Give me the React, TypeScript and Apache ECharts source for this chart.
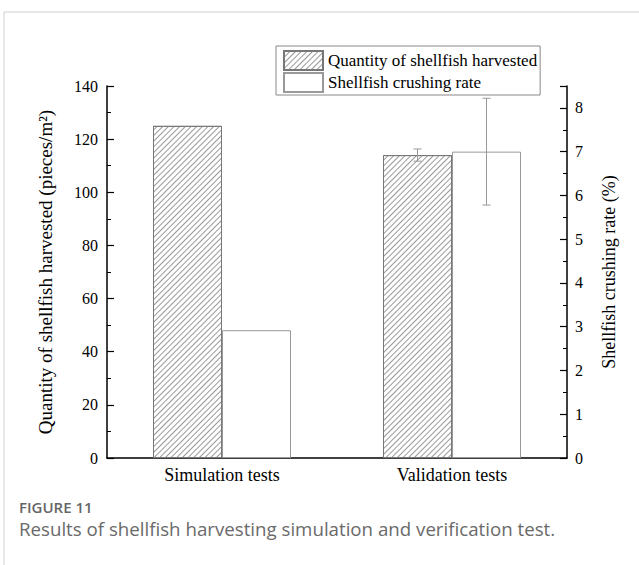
import React, { useEffect, useRef } from "react";
import * as echarts from "echarts";

const categories = ["Simulation tests", "Validation tests"];
const harvestedValues = [125, 114];
const harvestedErrors = [0, 2.3];
const crushingValues = [2.92, 7.0];
const crushingErrors = [0, 1.22];
const leftTicks = { min: 0, max: 140, interval: 20 };
const rightTicks = { min: 0, max: 8.5, interval: 1 };

const serif = "Liberation Serif";
const sans = "Open Sans";
const BAR_W = 69;

function errorRenderer(offset: number) {
  return (params: any, api: any) => {
    const idx = api.value(0);
    const v = api.value(1);
    const e = api.value(2);
    if (!e) return null;
    const top = api.coord([idx, v + e]);
    const bot = api.coord([idx, v - e]);
    const x = top[0] + offset;
    const style = { stroke: "#999", lineWidth: 1 };
    return {
      type: "group",
      children: [
        { type: "line", shape: { x1: x, y1: top[1], x2: x, y2: bot[1] }, style },
        { type: "line", shape: { x1: x - 4, y1: top[1], x2: x + 4, y2: top[1] }, style },
        { type: "line", shape: { x1: x - 4, y1: bot[1], x2: x + 4, y2: bot[1] }, style },
      ],
    };
  };
}

export default function App() {
  const ref = useRef<HTMLDivElement>(null);
  useEffect(() => {
    if (!ref.current) return;
    const chart = echarts.init(ref.current, undefined, { renderer: "svg" });
    const axisLine = { show: true, lineStyle: { color: "#000", width: 1.5 } };
    chart.setOption({
      animation: false,
      backgroundColor: "#fff",
      textStyle: { fontFamily: serif },
      grid: { left: 107, top: 86, width: 460, height: 372 },
      legend: {
        left: 276,
        top: 46,
        orient: "vertical",
        data: ["Quantity of shellfish harvested", "Shellfish crushing rate"],
        itemWidth: 39,
        itemHeight: 19,
        itemGap: 1,
        padding: [4, 3, 2, 7],
        borderColor: "#888",
        borderWidth: 1,
        icon: "rect",
        textStyle: { fontFamily: serif, fontSize: 17, color: "#000", lineHeight: 19 },
      },
      xAxis: {
        type: "category",
        data: categories,
        axisLine,
        axisTick: { show: true, inside: true, alignWithLabel: true, length: 5, lineStyle: { color: "#000" } },
        axisLabel: { fontFamily: serif, fontSize: 18, color: "#000", margin: 8 },
      },
      yAxis: [
        {
          type: "value",
          ...leftTicks,
          name: "Quantity of shellfish harvested (pieces/m²)",
          nameLocation: "middle",
          nameGap: 52,
          nameRotate: 90,
          nameTextStyle: { fontFamily: serif, fontSize: 19, color: "#000" },
          axisLine,
          axisTick: { show: true, inside: true, length: 7, lineStyle: { color: "#000", width: 1.2 } },
          minorTick: { show: true, splitNumber: 2, length: 4, lineStyle: { color: "#000", width: 1 } },
          splitLine: { show: false },
          axisLabel: { fontFamily: serif, fontSize: 16, color: "#000", margin: 9 },
        },
        {
          type: "value",
          ...rightTicks,
          position: "right",
          name: "Shellfish crushing rate (%)",
          nameLocation: "middle",
          nameGap: 33,
          nameRotate: 90,
          nameTextStyle: { fontFamily: serif, fontSize: 18, color: "#000" },
          axisLine,
          axisTick: { show: true, inside: true, length: 7, lineStyle: { color: "#000", width: 1.2 } },
          minorTick: { show: true, splitNumber: 2, length: 4, lineStyle: { color: "#000", width: 1 } },
          splitLine: { show: false },
          axisLabel: { fontFamily: serif, fontSize: 16, color: "#000", margin: 8, showMaxLabel: false },
        },
      ],
      series: [
        {
          name: "Quantity of shellfish harvested",
          type: "bar",
          yAxisIndex: 0,
          data: harvestedValues,
          barWidth: BAR_W,
          barGap: "0%",
          itemStyle: {
            color: "#fff",
            borderColor: "#777",
            borderWidth: 1,
            decal: {
              symbol: "rect",
              symbolSize: 1,
              dashArrayX: [1, 0],
              dashArrayY: [1, 3],
              rotation: -Math.PI / 4,
              color: "#999",
            },
          },
        },
        {
          name: "Shellfish crushing rate",
          type: "bar",
          yAxisIndex: 1,
          data: crushingValues,
          barWidth: BAR_W,
          barGap: "0%",
          itemStyle: { color: "#fff", borderColor: "#999", borderWidth: 1 },
        },
        {
          type: "custom",
          yAxisIndex: 0,
          z: 5,
          renderItem: errorRenderer(-BAR_W / 2),
          encode: { x: 0, y: 1 },
          data: categories.map((_, i) => [i, harvestedValues[i], harvestedErrors[i]]),
        },
        {
          type: "custom",
          yAxisIndex: 1,
          z: 5,
          renderItem: errorRenderer(BAR_W / 2),
          encode: { x: 0, y: 1 },
          data: categories.map((_, i) => [i, crushingValues[i], crushingErrors[i]]),
        },
      ],
      graphic: [
        { type: "line", shape: { x1: 4, y1: 12, x2: 639, y2: 12 }, style: { stroke: "#d0d0d0", lineWidth: 1 } },
        { type: "line", shape: { x1: 4, y1: 12, x2: 4, y2: 565 }, style: { stroke: "#d0d0d0", lineWidth: 1 } },
        {
          type: "text",
          x: 19,
          y: 507,
          style: { text: "FIGURE 11", font: `600 15px "${sans}"`, fill: "#666", verticalAlign: "middle" },
        },
        {
          type: "text",
          x: 19,
          y: 528,
          style: {
            text: "Results of shellfish harvesting simulation and verification test.",
            font: `18.7px "${sans}"`,
            fill: "#6a6a6a",
            verticalAlign: "middle",
          },
        },
      ],
    });
    return () => chart.dispose();
  }, []);
  return (
    <div
      ref={ref}
      style={{ position: "fixed", left: 0, top: 0, width: 639, height: 565 }}
    />
  );
}
